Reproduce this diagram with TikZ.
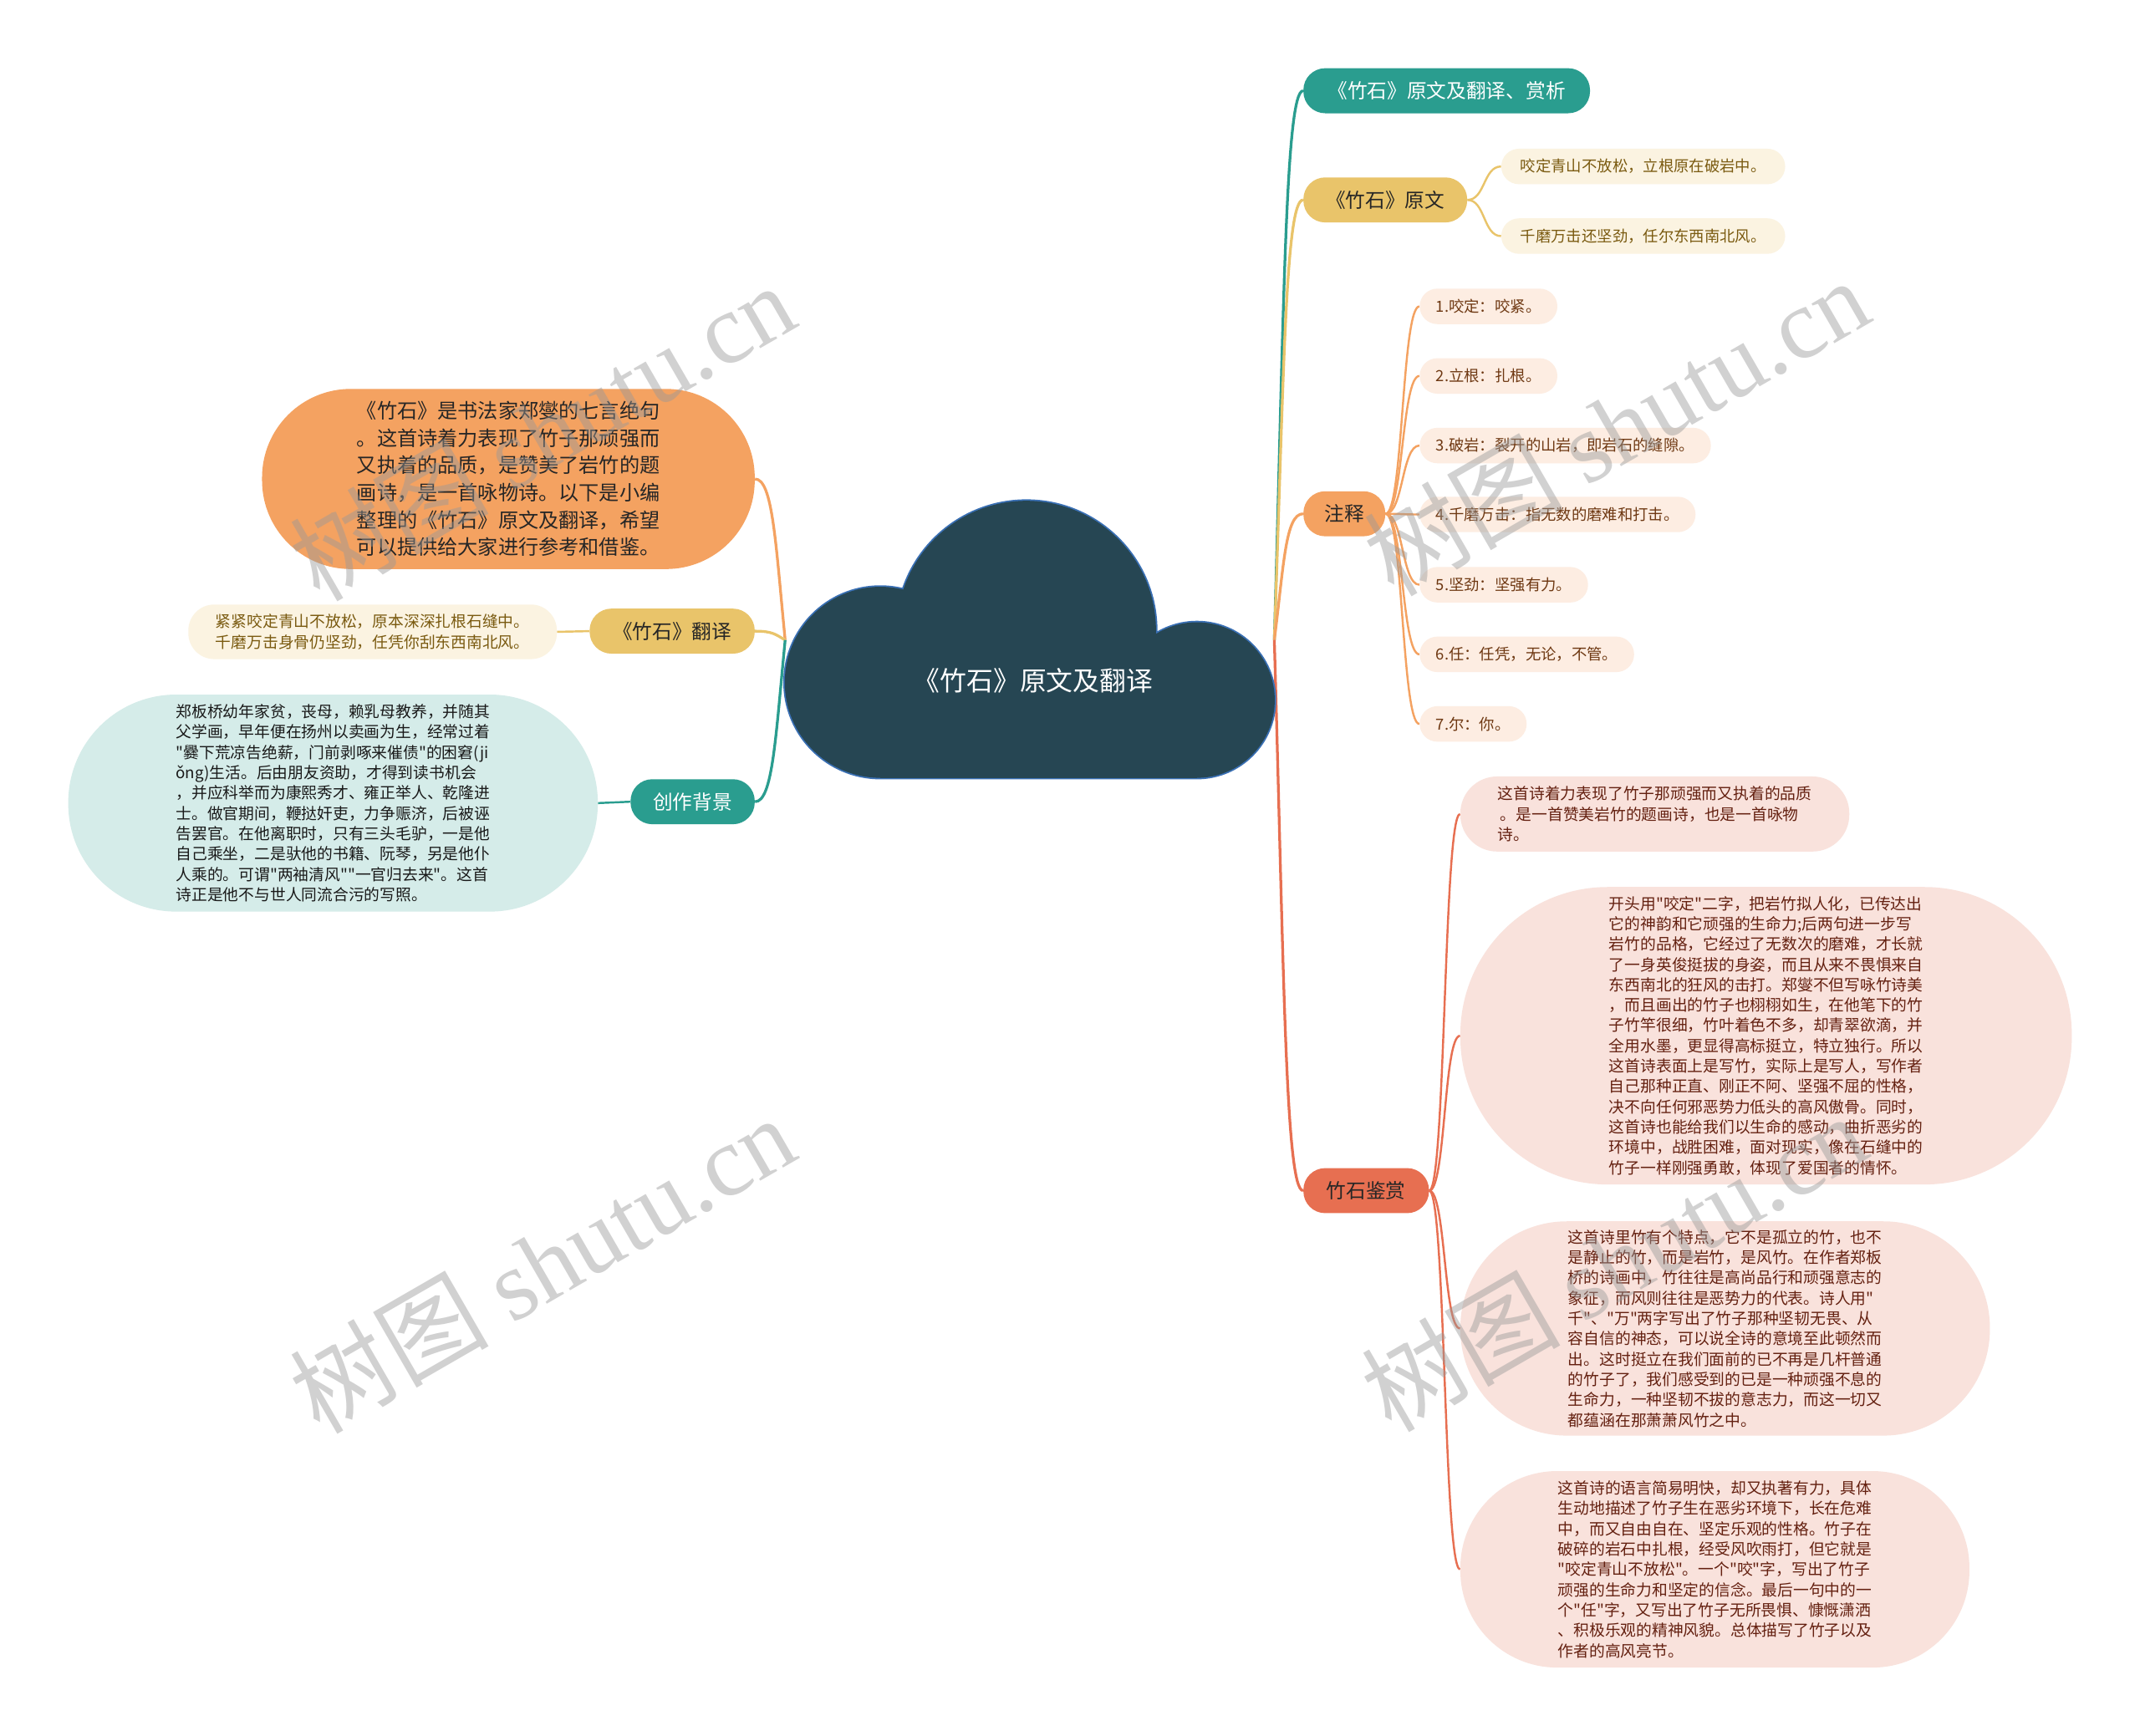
\documentclass[tikz,border=0pt]{standalone}
\usepackage{fontspec}
\setmainfont{Noto Sans CJK SC}[Ligatures=TeXOff]
\newfontfamily\wmserif{Liberation Serif}
\usetikzlibrary{calc}
\definecolor{cteal}{HTML}{2A9D8F}
\definecolor{cyellow}{HTML}{E9C46A}
\definecolor{corange}{HTML}{F4A261}
\definecolor{cred}{HTML}{E76F51}
\definecolor{cdark}{HTML}{264653}
\definecolor{cloudline}{HTML}{3A70B5}
\definecolor{fyellow}{HTML}{FBF3E1}
\definecolor{forange}{HTML}{FDEDE2}
\definecolor{fred}{HTML}{F9E2DC}
\definecolor{fteal}{HTML}{D5ECE9}
\definecolor{tyellow}{HTML}{7A5A10}
\definecolor{torange}{HTML}{6E3812}
\definecolor{tred}{HTML}{642010}
\definecolor{wmgray}{HTML}{999999}
\pgfdeclarelayer{bg}\pgfdeclarelayer{fg}\pgfsetlayers{bg,main,fg}
\tikzset{
  pill/.style={rectangle, rounded corners=#1, inner sep=0pt, align=left},
  mainnode/.style={pill=16pt, minimum height=33pt, font=\fontsize{14.5}{17}\selectfont, text=black!85},
  leafnode/.style={pill=13pt, minimum height=26pt, inner xsep=12pt, font=\fontsize{11.25}{14}\selectfont},
  para/.style={font=\fontsize{11.5}{14.9}\selectfont},
  link/.style={line width=2pt},
  sublink/.style={line width=1.5pt},
  wm/.style={text=wmgray, opacity=0.45, rotate=30, inner sep=0pt, font=\fontsize{73}{78}\selectfont}
}
\begin{document}
\begin{tikzpicture}[x=1pt,y=-1pt]
\useasboundingbox (0,0) rectangle (1568,1272);
\begin{pgfonlayer}{bg}
\fill[white] (0,0) rectangle (1568,1272);
\end{pgfonlayer}

% cloud (root)
\draw[cloudline, line width=2.2pt] (645,500) circle[radius=70pt] (752,462) circle[radius=95pt] (877,513) circle[radius=57pt] (645,500) rectangle (877,570);
\fill[cdark] (645,500) circle[radius=70pt];
\fill[cdark] (752,462) circle[radius=95pt];
\fill[cdark] (877,513) circle[radius=57pt];
\fill[cdark] (645,500) rectangle (877,570);
\node[minimum width=358pt, minimum height=204pt, inner sep=0pt] (root) at (754.5,469) {};
\node[text=white, font=\fontsize{19.5}{22}\selectfont] (roottext) at (757,499) {《竹石》原文及翻译};

% right main branches
\node[mainnode, fill=cteal, text=white, minimum width=210pt] (t1) at (1060,66.5) {《竹石》原文及翻译、赏析};
\node[mainnode, fill=cyellow, minimum width=120pt] (y1) at (1015,146.5) {《竹石》原文};
\node[mainnode, fill=corange, minimum width=60pt] (o1) at (985,376.5) {注释};
\node[mainnode, fill=cred, minimum width=92pt] (r1) at (1001,872.5) {竹石鉴赏};

% yellow leaves
\node[leafnode, fill=fyellow, text=tyellow, minimum width=208pt] (y1a) at (1204,122) {咬定青山不放松，立根原在破岩中。};
\node[leafnode, fill=fyellow, text=tyellow, minimum width=208pt] (y1b) at (1204,173) {千磨万击还坚劲，任尔东西南北风。};

% orange leaves
\node[leafnode, fill=forange, text=torange, anchor=west] (o1a) at (1040,224.5) {1.咬定：咬紧。};
\node[leafnode, fill=forange, text=torange, anchor=west] (o1b) at (1040,275.5) {2.立根：扎根。};
\node[leafnode, fill=forange, text=torange, anchor=west] (o1c) at (1040,326.5) {3.破岩：裂开的山岩，即岩石的缝隙。};
\node[leafnode, fill=forange, text=torange, anchor=west] (o1d) at (1040,377) {4.千磨万击：指无数的磨难和打击。};
\node[leafnode, fill=forange, text=torange, anchor=west] (o1e) at (1040,428.5) {5.坚劲：坚强有力。};
\node[leafnode, fill=forange, text=torange, anchor=west] (o1f) at (1040,479.5) {6.任：任凭，无论，不管。};
\node[leafnode, fill=forange, text=torange, anchor=west] (o1g) at (1040,530.5) {7.尔：你。};

% red leaves
\node[pill=27pt, para, fill=fred, text=tred, minimum width=285pt, minimum height=55pt] (ra) at (1212.5,596.5) {这首诗着力表现了竹子那顽强而又执着的品质\\\,。是一首赞美岩竹的题画诗，也是一首咏物\\诗。};
\node[pill=108pt, para, fill=fred, text=tred, minimum width=448pt, minimum height=218pt] (rb) at (1294,759) {开头用"咬定"二字，把岩竹拟人化，已传达出\\
它的神韵和它顽强的生命力;后两句进一步写\\
岩竹的品格，它经过了无数次的磨难，才长就\\
了一身英俊挺拔的身姿，而且从来不畏惧来自\\
东西南北的狂风的击打。郑燮不但写咏竹诗美\\
，而且画出的竹子也栩栩如生，在他笔下的竹\\
子竹竿很细，竹叶着色不多，却青翠欲滴，并\\
全用水墨，更显得高标挺立，特立独行。所以\\
这首诗表面上是写竹，实际上是写人，写作者\\
自己那种正直、刚正不阿、坚强不屈的性格，\\
决不向任何邪恶势力低头的高风傲骨。同时，\\
这首诗也能给我们以生命的感动，曲折恶劣的\\
环境中，战胜困难，面对现实，像在石缝中的\\
竹子一样刚强勇敢，体现了爱国者的情怀。};
\node[pill=78pt, para, fill=fred, text=tred, minimum width=388pt, minimum height=157pt] (rc) at (1264,973.5) {这首诗里竹有个特点，它不是孤立的竹，也不\\
是静止的竹，而是岩竹，是风竹。在作者郑板\\
桥的诗画中，竹往往是高尚品行和顽强意志的\\
象征，而风则往往是恶势力的代表。诗人用"\\
千"、"万"两字写出了竹子那种坚韧无畏、从\\
容自信的神态，可以说全诗的意境至此顿然而\\
出。这时挺立在我们面前的已不再是几杆普通\\
的竹子了，我们感受到的已是一种顽强不息的\\
生命力，一种坚韧不拔的意志力，而这一切又\\
都蕴涵在那萧萧风竹之中。};
\node[pill=71pt, para, fill=fred, text=tred, minimum width=373pt, minimum height=144pt] (rd) at (1256.5,1150) {这首诗的语言简易明快，却又执著有力，具体\\
生动地描述了竹子生在恶劣环境下，长在危难\\
中，而又自由自在、坚定乐观的性格。竹子在\\
破碎的岩石中扎根，经受风吹雨打，但它就是\\
"咬定青山不放松"。一个"咬"字，写出了竹子\\
顽强的生命力和坚定的信念。最后一句中的一\\
个"任"字，又写出了竹子无所畏惧、慷慨潇洒\\
、积极乐观的精神风貌。总体描写了竹子以及\\
作者的高风亮节。};

% left side
\node[pill=65pt, fill=corange, text=black!85, font=\fontsize{14.8}{20}\selectfont, minimum width=361pt, minimum height=132pt] (lo) at (372.5,351) {《竹石》是书法家郑燮的七言绝句\\
。这首诗着力表现了竹子那顽强而\\
又执着的品质，是赞美了岩竹的题\\
画诗，是一首咏物诗。以下是小编\\
整理的《竹石》原文及翻译，希望\\
可以提供给大家进行参考和借鉴。};
\node[mainnode, fill=cyellow, minimum width=121pt] (ly) at (492.5,462.5) {《竹石》翻译};
\node[pill=19pt, para, fill=fyellow, text=tyellow, minimum width=270pt, minimum height=40pt] (lya) at (273,463) {紧紧咬定青山不放松，原本深深扎根石缝中。\\千磨万击身骨仍坚劲，任凭你刮东西南北风。};
\node[mainnode, fill=cteal, text=white, minimum width=91pt] (lt) at (507.5,587.5) {创作背景};
\node[pill=79pt, para, fill=fteal, text=black!90, minimum width=388pt, minimum height=159pt] (lta) at (244,588.5) {郑板桥幼年家贫，丧母，赖乳母教养，并随其\\
父学画，早年便在扬州以卖画为生，经常过着\\
"爨下荒凉告绝薪，门前剥啄来催债"的困窘(ji\\
ǒng)生活。后由朋友资助，才得到读书机会\\
，并应科举而为康熙秀才、雍正举人、乾隆进\\
士。做官期间，鞭挞奸吏，力争赈济，后被诬\\
告罢官。在他离职时，只有三头毛驴，一是他\\
自己乘坐，二是驮他的书籍、阮琴，另是他仆\\
人乘的。可谓"两袖清风""一官归去来"。这首\\
诗正是他不与世人同流合污的写照。};

% connectors
\begin{pgfonlayer}{bg}
\draw[link, cteal] (root.east) .. controls +(7,-242) and +(-13,0) .. (t1.west);
\draw[link, cyellow] (root.east) .. controls +(7,-194) and +(-13,0) .. (y1.west);
\draw[link, corange] (root.east) .. controls +(7,-55) and +(-13,0) .. (o1.west);
\draw[link, cred] (root.east) .. controls +(7,242) and +(-13,0) .. (r1.west);
\draw[link, corange] (root.west) .. controls +(-7,-71) and +(13,0) .. (lo.east);
\draw[link, cyellow] (root.west) .. controls +(-7,-4) and +(13,0) .. (ly.east);
\draw[link, cteal] (root.west) .. controls +(-7,71) and +(13,0) .. (lt.east);
\foreach \c in {y1a,y1b}{
  \draw[sublink, cyellow] (y1.east) .. controls +(13,0) and +(-13,0) .. (\c.west);}
\foreach \c in {o1a,o1b,o1c,o1d,o1e,o1f,o1g}{
  \draw[sublink, corange] (o1.east) .. controls +(13,0) and +(-13,0) .. (\c.west);}
\foreach \c in {ra,rb,rc,rd}{
  \draw[sublink, cred] (r1.east) .. controls +(12,0) and +(-12,0) .. (\c.west);}
\draw[sublink, cyellow] (ly.west) -- (lya.east);
\draw[sublink, cteal] (lt.west) -- (lta.east);
\end{pgfonlayer}

% watermarks
\begin{pgfonlayer}{fg}
\node[wm] (wm1) at (397,316) {树图 {\wmserif shutu.cn}};
\node[wm] (wm2) at (1184,312) {树图 {\wmserif shutu.cn}};
\node[wm] (wm3) at (397,926) {树图 {\wmserif shutu.cn}};
\node[wm] (wm4) at (1182,925) {树图 {\wmserif shutu.cn}};
\end{pgfonlayer}
\end{tikzpicture}
\end{document}
